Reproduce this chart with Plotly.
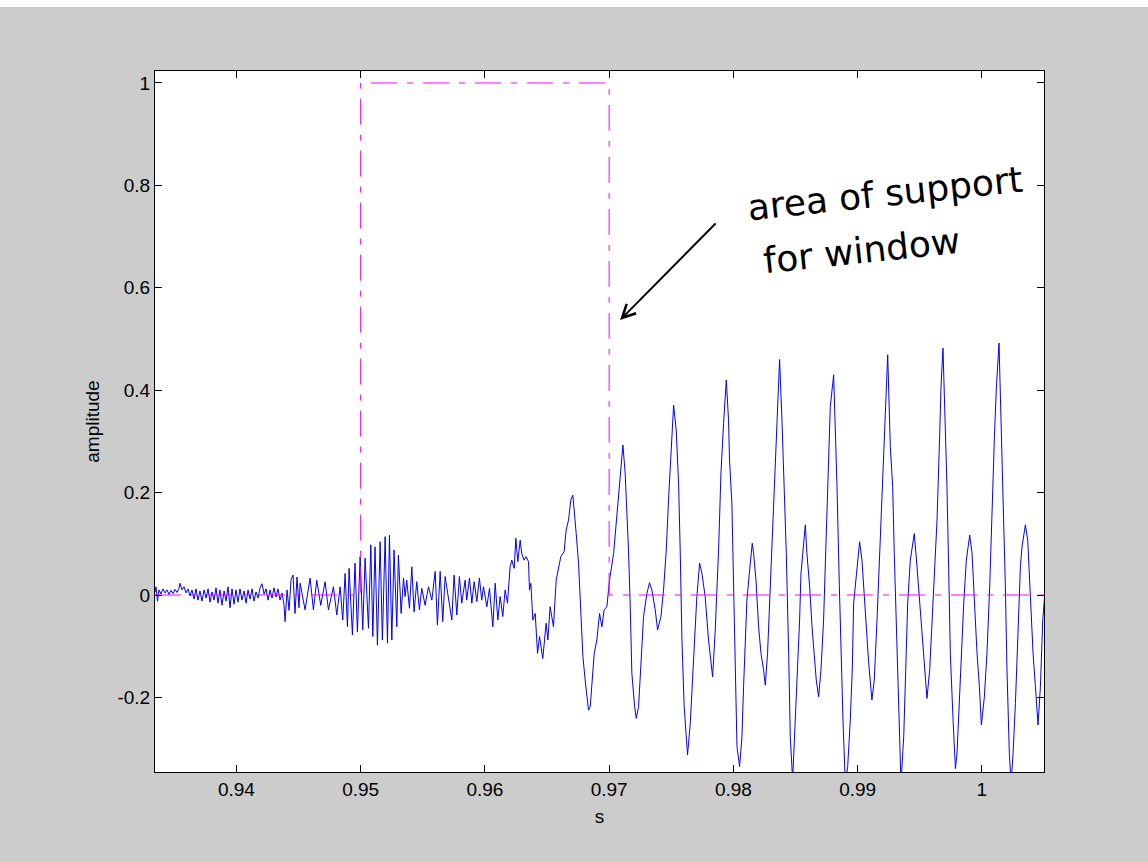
import plotly.graph_objects as go

# ---- signal samples (time in s, amplitude) ----
t_quiet = [0.93345, 0.93353, 0.93365, 0.93377, 0.93393, 0.93409, 0.93426, 0.93442, 0.93458, 0.93474,
           0.93490, 0.93506, 0.93522, 0.93538, 0.93546, 0.93562, 0.93579, 0.93595, 0.93611, 0.93627,
           0.93643, 0.93659, 0.93675, 0.93691, 0.93707, 0.93723, 0.93740, 0.93756, 0.93772, 0.93788,
           0.93804, 0.93820, 0.93836, 0.93852, 0.93868, 0.93884, 0.93901, 0.93917, 0.93933, 0.93949,
           0.93965, 0.93981, 0.93997, 0.94013, 0.94029, 0.94045, 0.94062, 0.94078, 0.94094, 0.94110,
           0.94126, 0.94142, 0.94158, 0.94174, 0.94190, 0.94206, 0.94223, 0.94239, 0.94255, 0.94271,
           0.94287, 0.94303, 0.94319, 0.94335, 0.94351, 0.94367, 0.94384, 0.94392, 0.94408, 0.94424,
           0.94440, 0.94456, 0.94472, 0.94488, 0.94504]
a_quiet = [0.005, 0.016, -0.012, 0.010, 0.002, 0.012, 0.004, 0.010, 0.001, 0.009,
           0.003, 0.011, 0.005, 0.013, 0.023, 0.010, 0.016, 0.004, 0.012, -0.002,
           0.010, -0.008, 0.012, -0.010, 0.008, -0.012, 0.010, -0.006, 0.012, -0.014,
           0.006, -0.010, 0.014, -0.016, 0.010, -0.020, 0.008, -0.012, 0.016, -0.025,
           0.012, -0.018, 0.010, -0.014, 0.012, -0.010, 0.008, -0.016, 0.010, -0.008,
           0.012, -0.012, 0.006, -0.006, 0.014, 0.022, 0.002, 0.012, -0.010, 0.010,
           -0.006, 0.014, -0.004, 0.012, -0.010, 0.004, -0.020, -0.052, 0.010, -0.030,
           0.030, 0.039, -0.036, 0.035, -0.025]

t_burst = [0.94513, 0.94553, 0.94593, 0.94620, 0.94647, 0.94679, 0.94714, 0.94741, 0.94781, 0.94808,
           0.94835, 0.94856, 0.94875, 0.94894, 0.94907, 0.94934, 0.94955, 0.94974, 0.94996, 0.95017,
           0.95036, 0.95063, 0.95082, 0.95098, 0.95116, 0.95135, 0.95157, 0.95175, 0.95197, 0.95216,
           0.95232, 0.95251, 0.95269, 0.95291, 0.95304, 0.95326, 0.95345, 0.95358, 0.95371, 0.95393,
           0.95412, 0.95430, 0.95452, 0.95473, 0.95492, 0.95519, 0.95546, 0.95573, 0.95600, 0.95618,
           0.95640, 0.95661, 0.95680]
a_burst = [0.023, -0.029, 0.033, -0.029, 0.029, -0.020, 0.026, -0.029, 0.016, -0.039,
           0.016, -0.049, 0.042, -0.062, 0.052, -0.078, 0.062, -0.072, 0.075, -0.068,
           0.072, -0.065, 0.098, -0.081, 0.094, -0.098, 0.104, -0.088, 0.114, -0.094,
           0.117, -0.088, 0.088, -0.062, 0.078, -0.036, 0.033, -0.003, 0.029, -0.026,
           0.055, -0.033, 0.026, -0.029, 0.013, -0.020, 0.016, -0.010, 0.046, -0.059,
           0.046, -0.052, 0.036]

t_onset = [0.95734, 0.95752, 0.95774, 0.95795, 0.95814, 0.95841, 0.95854, 0.95876, 0.95895, 0.95914,
           0.95935, 0.95956, 0.95975, 0.95989, 0.96016, 0.96037, 0.96064, 0.96083, 0.96104, 0.96123,
           0.96144, 0.96163, 0.96182, 0.96203, 0.96217, 0.96236, 0.96249, 0.96265, 0.96284, 0.96297,
           0.96316, 0.96332, 0.96351, 0.96359, 0.96370, 0.96386, 0.96405, 0.96424, 0.96440, 0.96466,
           0.96493, 0.96507, 0.96525, 0.96552, 0.96574, 0.96593, 0.96611, 0.96638, 0.96654, 0.96673,
           0.96692, 0.96708, 0.96719, 0.96735, 0.96754, 0.96772, 0.96789, 0.96807, 0.96821, 0.96834,
           0.96848, 0.96861, 0.96880, 0.96901, 0.96923, 0.96942, 0.96960, 0.96982, 0.97003]
a_onset = [-0.049, 0.039, -0.039, 0.036, -0.016, 0.029, -0.010, 0.033, -0.016, 0.026,
           -0.013, 0.033, -0.010, 0.016, -0.023, 0.013, -0.062, 0.023, -0.049, -0.003,
           -0.042, 0.010, -0.016, 0.055, 0.068, 0.052, 0.111, 0.065, 0.107, 0.081,
           0.068, 0.075, 0.065, 0.010, 0.023, -0.049, -0.036, -0.114, -0.081, -0.124,
           -0.055, -0.088, -0.023, -0.062, 0.029, 0.052, 0.075, 0.085, 0.127, 0.146,
           0.186, 0.195, 0.169, 0.120, 0.062, -0.036, -0.120, -0.166, -0.205, -0.225,
           -0.218, -0.166, -0.114, -0.088, -0.036, -0.062, -0.029, -0.023, 0.029]

t_voiced1 = [0.97036, 0.97062, 0.97084, 0.97095, 0.97111, 0.97129, 0.97143, 0.97156, 0.97170, 0.97183,
             0.97205, 0.97218, 0.97237, 0.97256, 0.97277, 0.97304, 0.97325, 0.97344, 0.97371, 0.97390,
             0.97417, 0.97438, 0.97460, 0.97478, 0.97497, 0.97519, 0.97540, 0.97559, 0.97572, 0.97586,
             0.97604, 0.97631, 0.97653, 0.97680, 0.97706, 0.97728, 0.97747, 0.97773, 0.97800, 0.97833,
             0.97854, 0.97881, 0.97900, 0.97921, 0.97943]
a_voiced1 = [0.081, 0.153, 0.205, 0.251, 0.293, 0.238, 0.173, 0.088, -0.023, -0.153,
             -0.218, -0.241, -0.218, -0.120, -0.042, 0.003, 0.024, 0.010, -0.029, -0.068,
             -0.042, 0.010, 0.088, 0.186, 0.283, 0.371, 0.322, 0.218, 0.088, -0.088,
             -0.218, -0.3125, -0.251, -0.133, -0.003, 0.062, 0.042, -0.003, -0.088, -0.160,
             -0.068, 0.088, 0.238, 0.335, 0.420]

t_voiced2 = [0.97961, 0.97969, 0.97988, 0.97996, 0.98007, 0.98020, 0.98029, 0.98050, 0.98069, 0.98082,
             0.98096, 0.98109, 0.98131, 0.98152, 0.98163, 0.98182, 0.98203, 0.98222, 0.98243, 0.98257,
             0.98275, 0.98297, 0.98318, 0.98337, 0.98356, 0.98372, 0.98391, 0.98404, 0.98426, 0.98445,
             0.98458, 0.98477, 0.98498, 0.98517, 0.98533, 0.98544, 0.98560, 0.98579, 0.98592, 0.98614,
             0.98633, 0.98651, 0.98667, 0.98686, 0.98705, 0.98726, 0.98748, 0.98767, 0.98780, 0.98807,
             0.98820, 0.98834, 0.98853, 0.98866, 0.98882, 0.98901, 0.98920, 0.98941, 0.98957, 0.98968,
             0.98987, 0.99016, 0.99035, 0.99048, 0.99067, 0.99089, 0.99115, 0.99134, 0.99156, 0.99177,
             0.99196, 0.99215, 0.99242]
a_voiced2 = [0.342, 0.264, 0.179, 0.081, -0.081, -0.212, -0.296, -0.335, -0.277, -0.179,
             -0.081, -0.010, 0.049, 0.101, 0.081, 0.029, -0.062, -0.114, -0.146, -0.176,
             -0.114, 0.016, 0.146, 0.244, 0.368, 0.460, 0.342, 0.244, 0.081, -0.114,
             -0.277, -0.361, -0.244, -0.146, -0.049, 0.042, 0.081, 0.137, 0.081, 0.016,
             -0.062, -0.120, -0.166, -0.199, -0.146, -0.049, 0.114, 0.244, 0.368, 0.430,
             0.342, 0.212, 0.016, -0.114, -0.244, -0.368, -0.335, -0.244, -0.146, -0.016,
             0.029, 0.104, 0.068, 0.016, -0.049, -0.133, -0.205, -0.166, -0.049, 0.081,
             0.179, 0.309, 0.469]

t_voiced3 = [0.99263, 0.99282, 0.99295, 0.99317, 0.99336, 0.99349, 0.99371, 0.99392, 0.99403, 0.99424,
             0.99456, 0.99478, 0.99505, 0.99532, 0.99545, 0.99558, 0.99580, 0.99607, 0.99639, 0.99660,
             0.99671, 0.99687, 0.99706, 0.99719, 0.99733, 0.99746, 0.99768, 0.99787, 0.99800, 0.99816,
             0.99832, 0.99854, 0.99875, 0.99902, 0.99921, 0.99940, 0.99961, 0.99980, 0.99996, 1.00020,
             1.00041, 1.00063, 1.00082, 1.00101, 1.00117, 1.00138, 1.00154, 1.00170, 1.00189, 1.00202,
             1.00221, 1.00235, 1.00251, 1.00270, 1.00288, 1.00310, 1.00323, 1.00350, 1.00369, 1.00390,
             1.00412, 1.00431, 1.00452, 1.00471, 1.00490, 1.00511]
a_voiced3 = [0.290, 0.212, 0.081, -0.114, -0.277, -0.368, -0.277, -0.114, -0.016, 0.068,
             0.120, 0.055, -0.036, -0.114, -0.166, -0.202, -0.146, -0.016, 0.146, 0.309,
             0.407, 0.482, 0.342, 0.212, 0.049, -0.114, -0.244, -0.339, -0.309, -0.212,
             -0.114, -0.016, 0.068, 0.117, 0.081, -0.016, -0.114, -0.179, -0.254, -0.199,
             -0.114, 0.016, 0.179, 0.309, 0.407, 0.492, 0.342, 0.212, 0.016, -0.146,
             -0.309, -0.368, -0.309, -0.212, -0.081, 0.055, 0.094, 0.137, 0.107, -0.016,
             -0.114, -0.179, -0.254, -0.179, -0.049, 0.016]

# ---- rectangular window (area of support 0.95 .. 0.97 s) ----
t_window = [0.93345, 0.95, 0.95, 0.97, 0.97, 1.00511]
a_window = [0, 0, 1, 1, 0, 0]

x_ticks = [0.94, 0.95, 0.96, 0.97, 0.98, 0.99, 1.0]
x_ticktext = ["0.94", "0.95", "0.96", "0.97", "0.98", "0.99", "1"]
y_ticks = [-0.2, 0, 0.2, 0.4, 0.6, 0.8, 1]
y_ticktext = ["-0.2", "0", "0.2", "0.4", "0.6", "0.8", "1"]

t_signal = t_quiet + t_burst + t_onset + t_voiced1 + t_voiced2 + t_voiced3
a_signal = a_quiet + a_burst + a_onset + a_voiced1 + a_voiced2 + a_voiced3

fig = go.Figure()
fig.add_trace(go.Scatter(x=t_signal, y=a_signal, mode="lines",
                         line=dict(color="#0000ff", width=1), showlegend=False))
fig.add_trace(go.Scatter(x=t_window, y=a_window, mode="lines",
                         line=dict(color="#ff00ff", width=1, dash="26px,10px,6px,10px"),
                         showlegend=False))

font_main = "Liberation Sans, Arial, sans-serif"
axis_common = dict(showline=True, linecolor="black", linewidth=1, mirror="ticks",
                   ticks="inside", ticklen=7, tickcolor="black", showgrid=False,
                   zeroline=False, tickfont=dict(family=font_main, size=19, color="black"))

fig.update_layout(
    width=1148, height=862,
    paper_bgcolor="#cccccc", plot_bgcolor="white",
    margin=dict(l=155, r=104, t=71, b=90),
    xaxis=dict(range=[0.93345, 1.005], tickvals=x_ticks, ticktext=x_ticktext,
               title=dict(text="s", font=dict(family=font_main, size=19, color="black"), standoff=10),
               **axis_common),
    yaxis=dict(range=[-0.3457, 1.0234], tickvals=y_ticks, ticktext=y_ticktext,
               title=dict(text="amplitude", font=dict(family=font_main, size=19, color="black"), standoff=12),
               **axis_common),
    shapes=[dict(type="rect", xref="paper", yref="paper",
                 x0=-155 / 889, x1=993 / 889, y0=1 + 64 / 701, y1=1 + 72 / 701,
                 fillcolor="white", line=dict(width=0), layer="above")],
    annotations=[
        dict(x=0.99223, y=0.785, xref="x", yref="y", text="area of support", showarrow=False,
             textangle=-6, font=dict(family="DejaVu Sans", size=36, color="black")),
        dict(x=0.99037, y=0.672, xref="x", yref="y", text="for window", showarrow=False,
             textangle=-6, font=dict(family="DejaVu Sans", size=36, color="black")),
        dict(x=0.97088, y=0.537, xref="x", yref="y", text="", showarrow=True,
             ax=97, ay=-98, arrowhead=5, arrowsize=1.3, arrowwidth=2, arrowcolor="black",
             standoff=0, startstandoff=0),
    ],
)

fig.write_html("out.html", config={"displayModeBar": False},
               post_script="document.body.style.margin='0';document.body.style.overflow='hidden';")
